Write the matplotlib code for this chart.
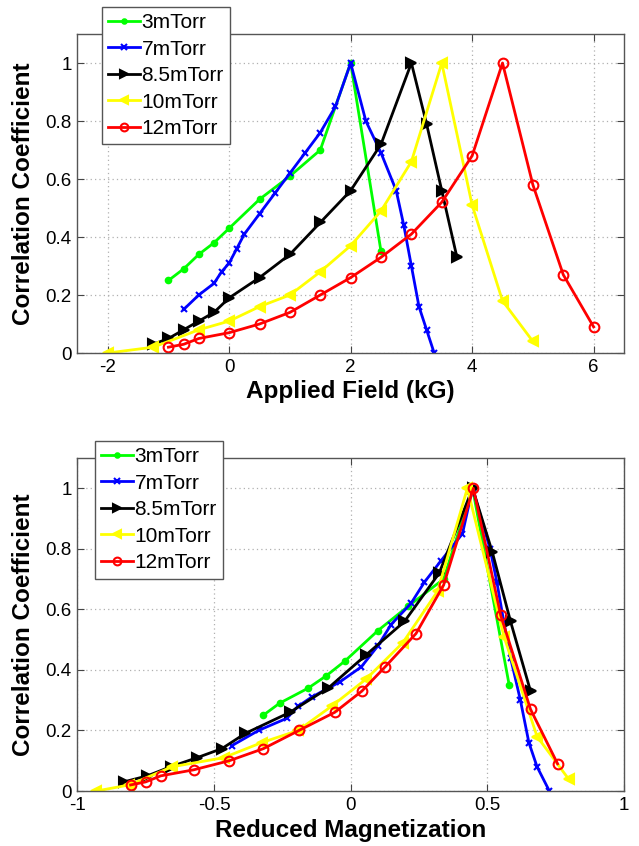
import matplotlib
matplotlib.use('Agg')
import matplotlib.pyplot as plt
from matplotlib.ticker import FormatStrFormatter

plt.rcParams['font.family'] = ['Liberation Sans', 'DejaVu Sans']

labels = ['3mTorr', '7mTorr', '8.5mTorr', '10mTorr', '12mTorr']
colors = ['#00ff00', '#0000ff', 'black', '#ffff00', '#ff0000']
markers = ['.', 'x', '>', '<', 'o']

# applied field (kG)
field_3 = [-1, -0.75, -0.5, -0.25, 0, 0.5, 1.0, 1.5, 2.0, 2.5]
field_7 = [-0.75, -0.5, -0.25, -0.125, 0, 0.125, 0.25, 0.5, 0.75, 1.0, 1.25, 1.5, 1.75, 2.0,
           2.25, 2.5, 2.75, 2.875, 3.0, 3.125, 3.25, 3.375]
field_85 = [-1.25, -1.0, -0.75, -0.5, -0.25, 0, 0.5, 1.0, 1.5, 2.0, 2.5, 3.0, 3.25, 3.5, 3.75]
field_10 = [-2.0, -1.25, -0.5, 0, 0.5, 1.0, 1.5, 2.0, 2.5, 3.0, 3.5, 4.0, 4.5, 5.0]
field_12 = [-1.0, -0.75, -0.5, 0, 0.5, 1.0, 1.5, 2.0, 2.5, 3.0, 3.5, 4.0, 4.5, 5.0, 5.5, 6.0]

# reduced magnetization
mag_3 = [-0.32, -0.26, -0.155, -0.09, -0.02, 0.10, 0.21, 0.34, 0.446, 0.58]
mag_7 = [-0.434, -0.337, -0.234, -0.192, -0.143, -0.04, 0.039, 0.10, 0.148, 0.221, 0.27, 0.33,
         0.409, 0.446, 0.51, 0.535, 0.56, 0.585, 0.621, 0.652, 0.682, 0.727]
mag_85 = [-0.83, -0.744, -0.659, -0.562, -0.471, -0.386, -0.222, -0.082, 0.057, 0.197, 0.324,
          0.446, 0.518, 0.585, 0.658]
mag_10 = [-0.93, -0.81, -0.653, -0.465, -0.325, -0.192, -0.07, 0.057, 0.191, 0.318, 0.427,
          0.561, 0.682, 0.797]
mag_12 = [-0.805, -0.75, -0.695, -0.574, -0.444, -0.319, -0.189, -0.058, 0.041, 0.126, 0.239,
          0.34, 0.449, 0.549, 0.658, 0.757]

# correlation coefficient
corr_3 = [0.25, 0.29, 0.34, 0.38, 0.43, 0.53, 0.61, 0.70, 1.0, 0.35]
corr_7 = [0.15, 0.20, 0.24, 0.28, 0.31, 0.36, 0.41, 0.48, 0.55, 0.62, 0.69, 0.76, 0.85, 1.0,
          0.80, 0.69, 0.56, 0.44, 0.30, 0.16, 0.08, 0.0]
corr_85 = [0.03, 0.05, 0.08, 0.11, 0.14, 0.19, 0.26, 0.34, 0.45, 0.56, 0.72, 1.0, 0.79, 0.56, 0.33]
corr_10 = [0.0, 0.02, 0.08, 0.11, 0.16, 0.20, 0.28, 0.37, 0.49, 0.66, 1.0, 0.51, 0.18, 0.04]
corr_12 = [0.02, 0.03, 0.05, 0.07, 0.10, 0.14, 0.20, 0.26, 0.33, 0.41, 0.52, 0.68, 1.0, 0.58,
           0.27, 0.09]

fields = [field_3, field_7, field_85, field_10, field_12]
mags = [mag_3, mag_7, mag_85, mag_10, mag_12]
corrs = [corr_3, corr_7, corr_85, corr_10, corr_12]

msizes = [8, 5, 6.5, 6.5, 7]

fig = plt.figure(figsize=(6.39, 8.46), dpi=100)
ax1 = fig.add_axes([77.3 / 639, 1 - 353 / 846, 546.7 / 639, 319 / 846])
ax2 = fig.add_axes([77.3 / 639, 1 - 791 / 846, 546.7 / 639, 333 / 846])


def style(ax, xlabel, ylab_x, xlab_y):
    ax.set_ylim(0, 1.1)
    ax.set_yticks([0, 0.2, 0.4, 0.6, 0.8, 1])
    ax.yaxis.set_major_formatter(FormatStrFormatter('%g'))
    ax.xaxis.set_major_formatter(FormatStrFormatter('%g'))
    ax.grid(True, linestyle=(0, (1, 2.5)), color='#b0b0b0', linewidth=0.9)
    ax.tick_params(direction='in', top=True, right=True, length=5, width=0.8,
                   labelsize=13.5, pad=4, color='#444444')
    for s in ax.spines.values():
        s.set_color('#555555')
        s.set_linewidth(1.0)
    ax.set_ylabel('Correlation Coefficient', fontsize=17.5, fontweight='bold')
    ax.set_xlabel(xlabel, fontsize=17.5, fontweight='bold')
    ax.yaxis.set_label_coords(ylab_x, 0.5)
    ax.xaxis.set_label_coords(0.5, xlab_y)


for i in range(5):
    mfc = 'none' if markers[i] == 'o' else colors[i]
    ax1.plot(fields[i], corrs[i], color=colors[i], marker=markers[i], markersize=msizes[i],
             markerfacecolor=mfc, markeredgecolor=colors[i], markeredgewidth=1.5, linewidth=2,
             label=labels[i])
    ax2.plot(mags[i], corrs[i], color=colors[i], marker=markers[i], markersize=msizes[i],
             markerfacecolor=mfc, markeredgecolor=colors[i], markeredgewidth=1.5, linewidth=2,
             label=labels[i])

ax1.set_xlim(-2.5, 6.5)
ax1.set_xticks([-2, 0, 2, 4, 6])
style(ax1, 'Applied Field (kG)', -0.077, -0.085)

ax2.set_xlim(-1, 1)
ax2.set_xticks([-1, -0.5, 0, 0.5, 1])
style(ax2, 'Reduced Magnetization', -0.077, -0.084)

for ax, anchor in [(ax1, (102 / 639, 1 - 7 / 846)), (ax2, (95 / 639, 1 - 441 / 846))]:
    leg = ax.legend(loc='upper left', bbox_to_anchor=anchor, bbox_transform=fig.transFigure,
                    fontsize=15, frameon=True, fancybox=False, framealpha=1, edgecolor='#555555',
                    handlelength=1.5, handletextpad=0.1, labelspacing=0.36, borderpad=0.3,
                    borderaxespad=0, markerscale=0.8)
    leg.get_frame().set_linewidth(1.0)

fig.savefig('out.png', dpi=100)
